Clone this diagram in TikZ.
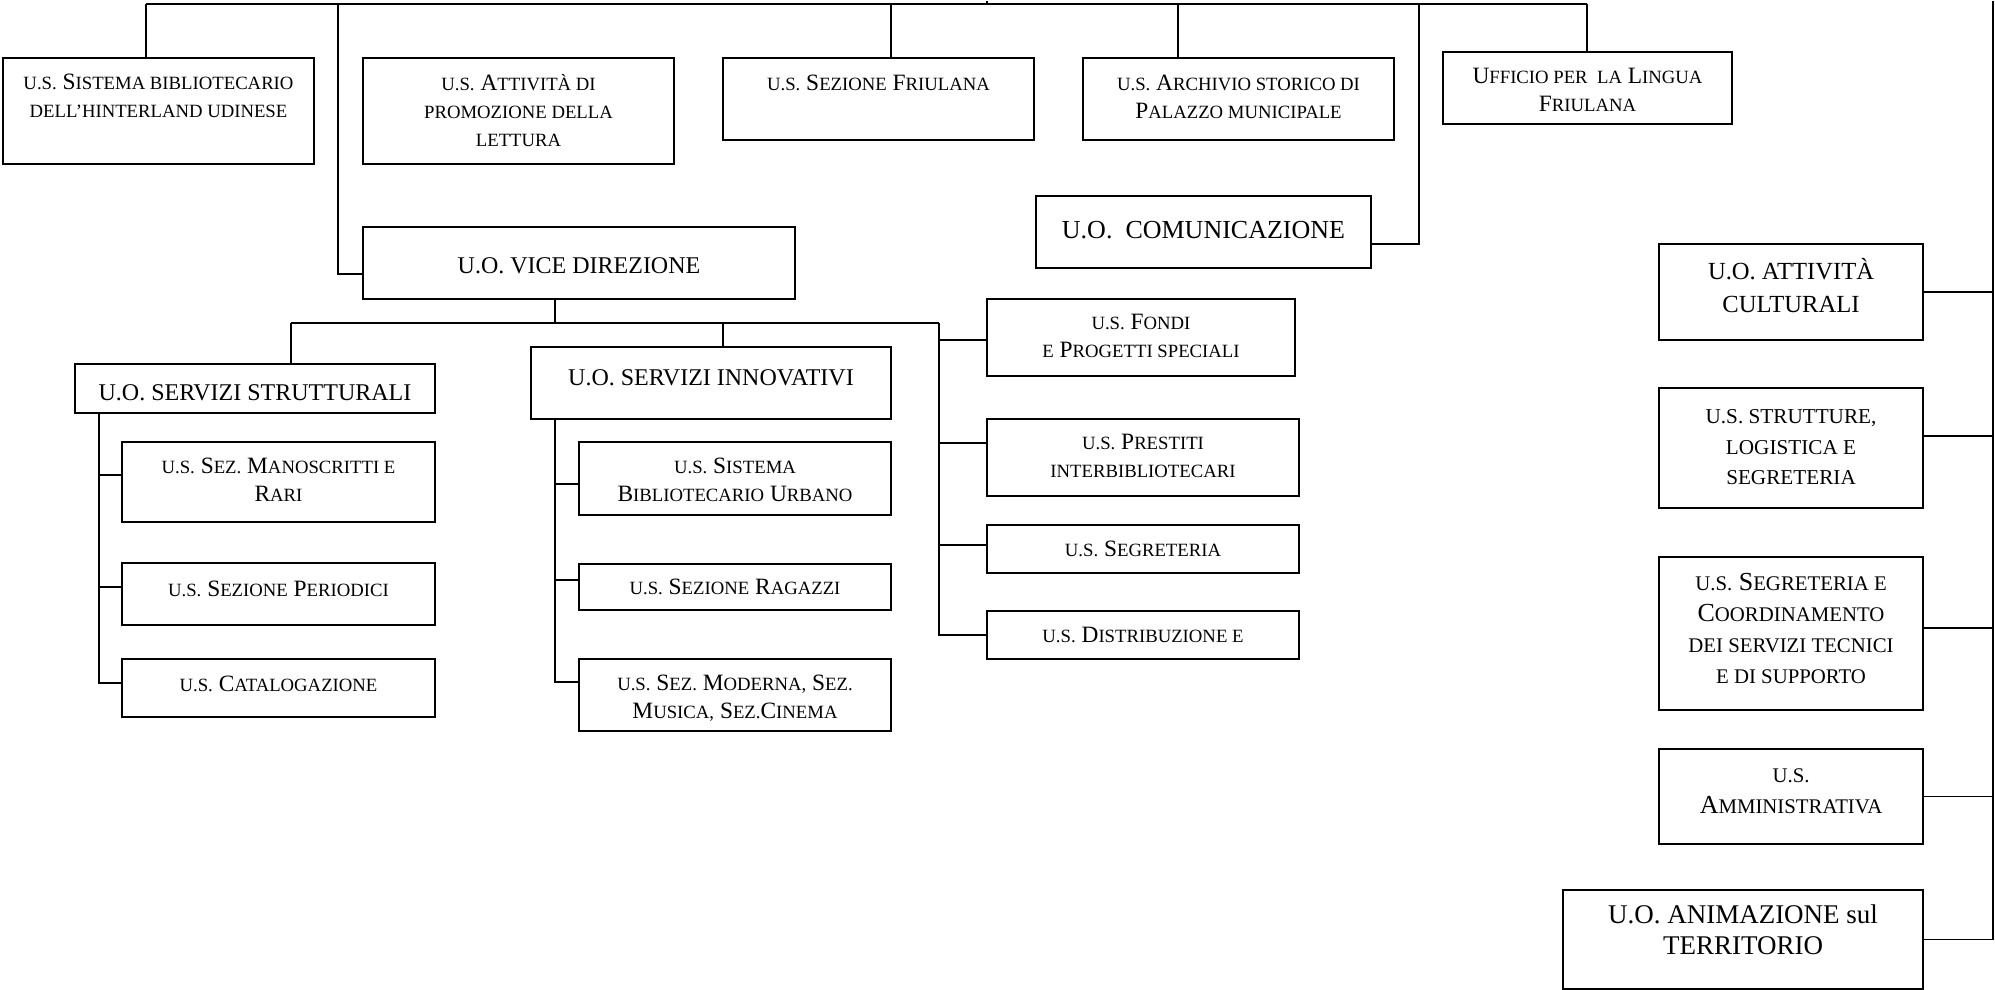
\documentclass[tikz,border=0pt]{standalone}
\usepackage{fontspec}
\setmainfont{Liberation Serif}
\makeatletter
\newcommand\fsc[1]{{\fontsize{\fpeval{0.8*\f@size}}{\f@baselineskip}\selectfont\MakeUppercase{#1}}}
\makeatother
\newcommand\rows[1]{\begin{tabular}{@{}c@{}}#1\end{tabular}}
\tikzset{
  box/.style={draw=black, line width=0.9pt, inner sep=0pt, outer sep=0pt, anchor=north west},
  scbox/.style={box, font=\fontsize{11.7}{14}\selectfont},
  capbox/.style={box, font=\fontsize{12}{16}\selectfont},
  bigbox/.style={box, font=\fontsize{13}{15.75}\selectfont},
  link/.style={draw=black, line width=0.9pt},
}

\begin{document}
\begin{tikzpicture}[x=0.5pt, y=-0.5pt]
  \fill[white] (0,0) rectangle (1995,989);
  % top row
  \node[scbox, minimum width=155.5pt, minimum height=53pt] (hinter) at (3,57) {\rows{\fsc{u.s.} S\fsc{istema bibliotecario}\\ \fsc{dell’hinterland udinese}\\[13pt]}};
  \node[scbox, minimum width=155.5pt, minimum height=53pt] (promo) at (363,57) {\rows{\fsc{u.s.} A\fsc{ttività di}\\ \fsc{promozione della}\\ \fsc{lettura}\\[-2pt]}};
  \node[scbox, minimum width=155.5pt, minimum height=41pt] (friulana) at (723,57) {\rows{\fsc{u.s.} S\fsc{ezione} F\fsc{riulana}\\[14pt]}};
  \node[scbox, minimum width=155.5pt, minimum height=41pt] (archivio) at (1083,57) {\rows{\fsc{u.s.} A\fsc{rchivio storico di}\\ P\fsc{alazzo municipale}}};
  \node[scbox, minimum width=144.5pt, minimum height=36pt] (lingua) at (1443,51) {\rows{U\fsc{fficio per\ \ la} L\fsc{ingua}\\ F\fsc{riulana}\\[-4pt]}};
  \node[bigbox, text depth=2pt, minimum width=167.5pt, minimum height=36pt] (comunic) at (1036,195) {U.O.\ \ COMUNICAZIONE};
  \node[capbox, text height=10.5pt, minimum width=216pt, minimum height=36pt] (vice) at (363,226) {U.O. VICE DIREZIONE};

  % vice direzione
  \node[capbox, text height=12.3pt, minimum width=180pt, minimum height=24.5pt] (strutturali) at (75,363) {U.O. SERVIZI STRUTTURALI};
  \node[capbox, text depth=5.4pt, minimum width=180pt, minimum height=36pt] (innovativi) at (531,346) {U.O. SERVIZI INNOVATIVI};
  \node[scbox, minimum width=156.5pt, minimum height=40pt] (manoscritti) at (122,441) {\rows{\fsc{u.s.} S\fsc{ez.} M\fsc{anoscritti e}\\ R\fsc{ari}}};
  \node[scbox, text depth=5.2pt, minimum width=156.5pt, minimum height=31pt] (periodici) at (122,562) {\fsc{u.s.} S\fsc{ezione} P\fsc{eriodici}};
  \node[scbox, text depth=3.8pt, minimum width=156.5pt, minimum height=29pt] (catalog) at (122,658) {\fsc{u.s.} C\fsc{atalogazione}};
  \node[scbox, minimum width=156pt, minimum height=36.5pt] (urbano) at (579,441) {\rows{\fsc{u.s.} S\fsc{istema}\\ B\fsc{ibliotecario} U\fsc{rbano}\\[-3.5pt]}};
  \node[scbox, minimum width=156pt, minimum height=23pt] (ragazzi) at (579,563) {\fsc{u.s.} S\fsc{ezione} R\fsc{agazzi}};
  \node[scbox, minimum width=156pt, minimum height=36pt] (moderna) at (579,658) {\rows{\fsc{u.s.} S\fsc{ez.} M\fsc{oderna,} S\fsc{ez.}\\ M\fsc{usica,} S\fsc{ez.}C\fsc{inema}\\[-3.5pt]}};
  \node[scbox, minimum width=154pt, minimum height=38.5pt] (fondi) at (987,298) {\rows{\fsc{u.s.} F\fsc{ondi}\\ \fsc{e} P\fsc{rogetti speciali}}};
  \node[scbox, minimum width=156pt, minimum height=38.5pt] (prestiti) at (987,418) {\rows{\fsc{u.s.} P\fsc{restiti}\\ \fsc{interbibliotecari}}};
  \node[scbox, minimum width=156pt, minimum height=24pt] (segreteria) at (987,524) {\fsc{u.s.} S\fsc{egreteria}};
  \node[scbox, minimum width=156pt, minimum height=24pt] (distrib) at (987,610) {\fsc{u.s.} D\fsc{istribuzione e}};

  % right column
  \node[capbox, font=\fontsize{12.3}{16.5}\selectfont, minimum width=132pt, minimum height=48pt] (cult) at (1659,243) {\rows{U.O. ATTIVITÀ\\ CULTURALI\\[2.5pt]}};
  \node[capbox, font=\fontsize{10.6}{15.25}\selectfont, minimum width=132pt, minimum height=60pt] (strutt) at (1659,387) {\rows{U.S. STRUTTURE,\\ LOGISTICA E\\ SEGRETERIA}};
  \node[bigbox, font=\fontsize{13}{15.5}\selectfont, minimum width=132pt, minimum height=76.5pt] (segcoord) at (1659,556) {\rows{\fsc{u.s.} S\fsc{egreteria e}\\ C\fsc{oordinamento}\\ \fsc{dei servizi tecnici}\\ \fsc{e di supporto}\\[3pt]}};
  \node[bigbox, font=\fontsize{13}{15.25}\selectfont, minimum width=132pt, minimum height=47.5pt] (ammin) at (1659,748) {\rows{\fsc{u.s.}\\ A\fsc{mministrativa}\\[4.5pt]}};
  \node[bigbox, font=\fontsize{13.5}{15.75}\selectfont, minimum width=180pt, minimum height=49.5pt] (animaz) at (1563,889) {\rows{U.O. ANIMAZIONE sul\\ TERRITORIO\\[6.5pt]}};

  % top bus
  \coordinate (head) at (987,0);
  \coordinate (busL) at (146,3);
  \coordinate (busR) at (1587,3);
  \draw[link] (head) -- (head |- busL);
  \draw[link] (busL) -- (busR);
  \draw[link] (busL) -- (busL |- hinter.north);
  \draw[link] (busR) -- (busR |- lingua.north);
  \draw[link] ([xshift=6.25pt]friulana.north) -- ([xshift=6.25pt]friulana.north |- busL);
  \draw[link] ([xshift=-30.25pt]archivio.north) -- ([xshift=-30.25pt]archivio.north |- busL);
  \draw[link] ([yshift=-5.5pt]vice.west) -| ([xshift=-12.5pt]vice.west |- busL);
  \draw[link] ([yshift=-6pt]comunic.east) -| ([xshift=24pt]comunic.east |- busL);

  % under vice direzione
  \coordinate (subL) at (291,322);
  \coordinate (subR) at (939,322);
  \draw[link] ([xshift=-12pt]vice.south) -- ([xshift=-12pt]vice.south |- subL);
  \draw[link] (subL) -- (subR);
  \draw[link] (subL) -- (subL |- strutturali.north);
  \draw[link] ([xshift=6pt]innovativi.north) -- ([xshift=6pt]innovativi.north |- subL);
  \draw[link] (subR) |- (distrib.west);
  \draw[link] ([yshift=-1.25pt]fondi.west) -- ([yshift=-1.25pt]fondi.west -| subR);
  \draw[link] ([yshift=7.25pt]prestiti.west) -- ([yshift=7.25pt]prestiti.west -| subR);
  \draw[link] ([yshift=2pt]segreteria.west) -- ([yshift=2pt]segreteria.west -| subR);

  \coordinate (spS) at ([xshift=12pt]strutturali.south west);
  \draw[link] (spS) |- ([yshift=2.5pt]catalog.west);
  \draw[link] ([yshift=3.5pt]manoscritti.west) -- ([yshift=3.5pt]manoscritti.west -| spS);
  \draw[link] ([yshift=3.5pt]periodici.west) -- ([yshift=3.5pt]periodici.west -| spS);

  \coordinate (spI) at ([xshift=12pt]innovativi.south west);
  \draw[link] (spI) |- ([yshift=6.5pt]moderna.west);
  \draw[link] ([yshift=-2.75pt]urbano.west) -- ([yshift=-2.75pt]urbano.west -| spI);
  \draw[link] ([yshift=3.5pt]ragazzi.west) -- ([yshift=3.5pt]ragazzi.west -| spI);

  % right spine
  \coordinate (spine) at (1993,0);
  \draw[link] (spine) |- (animaz.east);
  \draw[link] (cult.east) -- (cult.east -| spine);
  \draw[link] ([yshift=6pt]strutt.east) -- ([yshift=6pt]strutt.east -| spine);
  \draw[link] ([yshift=2.75pt]segcoord.east) -- ([yshift=2.75pt]segcoord.east -| spine);
  \draw[link] (ammin.east) -- (ammin.east -| spine);
\end{tikzpicture}
\end{document}
